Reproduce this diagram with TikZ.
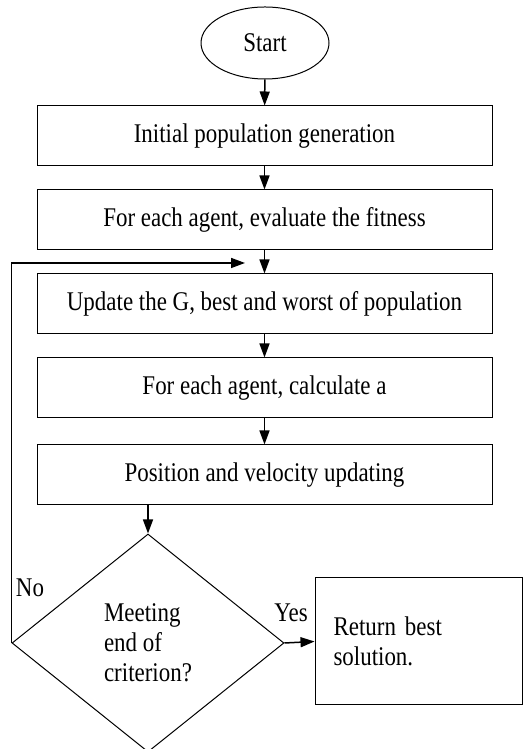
\documentclass[tikz,border=0pt]{standalone}
\usepackage{fontspec}
\setmainfont{Liberation Serif}[FakeStretch=0.85]
\usetikzlibrary{arrows.meta, shapes.geometric, positioning}
\tikzset{>={Triangle[length=14pt,width=10pt]}}

\begin{document}
\begin{tikzpicture}[x=1pt, y=1pt, line width=1pt, font=\fontsize{27}{30}\selectfont,
  proc/.style={draw, rectangle, minimum width=455pt, minimum height=60pt, inner sep=0pt},
  flow/.style={->, line width=1.5pt}]
  \useasboundingbox (0,0) rectangle (523,749);
  \node[draw, ellipse, minimum width=128pt, minimum height=72pt](start) at (265,706){Start};
  \node[proc](init) at (264.5,613){Initial population generation};
  \node[proc](fit) at (264.5,529){For each agent, evaluate the fitness};
  \node[proc](upd) at (264.5,445){Update the G, best and worst of population};
  \node[proc](acc) at (264.5,361){For each agent, calculate a};
  \node[proc](posvel) at (264.5,274){Position and velocity updating};
  \node[draw, diamond, minimum width=272pt, minimum height=218pt, inner sep=0pt, align=left](crit) at (148,106){Meeting\\end of\\criterion?};
  \node[draw, rectangle, minimum width=207pt, minimum height=127pt, text width=170pt, align=left, inner sep=0pt](ret) at (418.5,107.5){Return best\\solution.};
  \node(no) at (30,161){No};
  \node(yes) at (291,136){Yes};
  \coordinate(loop) at (245,486);
  % main chain
  \draw[flow](start)--(init);
  \draw[flow](init)--(fit);
  \draw[flow](fit)--(upd);
  \draw[flow](upd)--(acc);
  \draw[flow](acc)--(posvel);
  \draw[flow](posvel.south -| crit.north)--(crit.north);
  % decision
  \draw[flow](crit.east)--(ret.west);
  \draw[flow](crit.west)|-(loop);
\end{tikzpicture}
\end{document}
